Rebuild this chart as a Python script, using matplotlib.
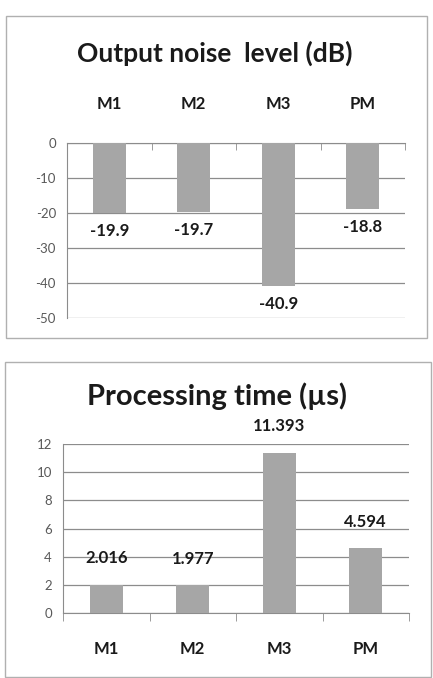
import matplotlib
matplotlib.use("Agg")
import matplotlib.pyplot as plt
from matplotlib.patches import Rectangle

categories = ["M1", "M2", "M3", "PM"]
noise_db = [-19.9, -19.7, -40.9, -18.8]
proc_time = [2.016, 1.977, 11.393, 4.594]
noise_labels = ["-19.9", "-19.7", "-40.9", "-18.8"]
time_labels = ["2.016", "1.977", "11.393", "4.594"]
noise_ticks = [0, -10, -20, -30, -40, -50]
time_ticks = [0, 2, 4, 6, 8, 10, 12]

W, H = 433, 678
fig = plt.figure(figsize=(W / 100, H / 100), dpi=100)
plt.rcParams['font.family'] = ['Lato', 'DejaVu Sans']
plt.rcParams['axes.unicode_minus'] = False

BAR = "#a6a6a6"
GRID = "#8c8c8c"
TICK = "#595959"

def fx(px):
    return px / W

def fy(py):
    return 1 - py / H

# panel borders
fig.patches.append(Rectangle((fx(6), fy(338)), fx(421), 322 / H, transform=fig.transFigure,
                             fill=False, edgecolor="#b0b0b0", lw=1.0))
fig.patches.append(Rectangle((fx(5), fy(677)), fx(426), 315 / H, transform=fig.transFigure,
                             fill=False, edgecolor="#b0b0b0", lw=1.0))

x = list(range(len(categories)))

# ---------- Top chart ----------
ax1 = fig.add_axes([fx(67), fy(318), fx(405 - 67), (318 - 143) / H])
ax1.bar(x, noise_db, width=0.39, color=BAR, zorder=3)
ax1.set_ylim(-50, 0)
ax1.set_xlim(-0.5, 3.5)
ax1.set_yticks(noise_ticks)
ax1.yaxis.grid(True, color=GRID, lw=0.9, zorder=0)
for s in ["right", "bottom"]:
    ax1.spines[s].set_visible(False)
ax1.spines["left"].set_color(GRID)
ax1.spines["top"].set_color(GRID)
ax1.tick_params(axis="y", length=0, labelsize=9.5, labelcolor=TICK, pad=8)
ax1.set_xticks([])
ax1.set_xticks([-0.5, 0.5, 1.5, 2.5, 3.5], minor=True)
ax1.tick_params(axis="x", which="minor", direction="in", length=5, color=GRID,
                top=True, bottom=False)
for i, (v, lab) in enumerate(zip(noise_db, noise_labels)):
    ax1.annotate(lab, (i, v), xytext=(0, -13), textcoords="offset points",
                 ha="center", va="center", fontsize=12, fontweight="bold", color="#1a1a1a")
    ax1.annotate(categories[i], (i, 0), xytext=(0, 28), textcoords="offset points",
                 ha="center", va="center", fontsize=12, fontweight="bold", color="#1a1a1a")
fig.text(fx(215), fy(53), "Output noise  level (dB)", ha="center", va="center",
         fontsize=19, fontweight="bold", color="#1a1a1a")

# ---------- Bottom chart ----------
ax2 = fig.add_axes([fx(63), fy(613), fx(409 - 63), (613 - 444) / H])
ax2.bar(x, proc_time, width=0.38, color=BAR, zorder=3)
ax2.set_ylim(0, 12)
ax2.set_xlim(-0.5, 3.5)
ax2.set_yticks(time_ticks)
ax2.yaxis.grid(True, color=GRID, lw=0.9, zorder=0)
for s in ["right", "top"]:
    ax2.spines[s].set_visible(False)
ax2.spines["left"].set_color(GRID)
ax2.spines["bottom"].set_color(GRID)
ax2.tick_params(axis="y", length=0, labelsize=9.5, labelcolor=TICK, pad=8)
ax2.set_xticks(x)
ax2.set_xticklabels(categories, fontsize=12, fontweight="bold", color="#1a1a1a")
ax2.tick_params(axis="x", which="major", length=0, pad=20)
ax2.set_xticks([-0.5, 0.5, 1.5, 2.5, 3.5], minor=True)
ax2.tick_params(axis="x", which="minor", direction="out", length=6, color=GRID)
for i, (v, lab) in enumerate(zip(proc_time, time_labels)):
    ax2.annotate(lab, (i, v), xytext=(0, 19), textcoords="offset points",
                 ha="center", va="center", fontsize=12, fontweight="bold", color="#1a1a1a")
fig.text(fx(217), fy(396), "Processing time (µs)", ha="center", va="center",
         fontsize=21, fontweight="bold", color="#1a1a1a")

fig.savefig("out.png", dpi=100)
